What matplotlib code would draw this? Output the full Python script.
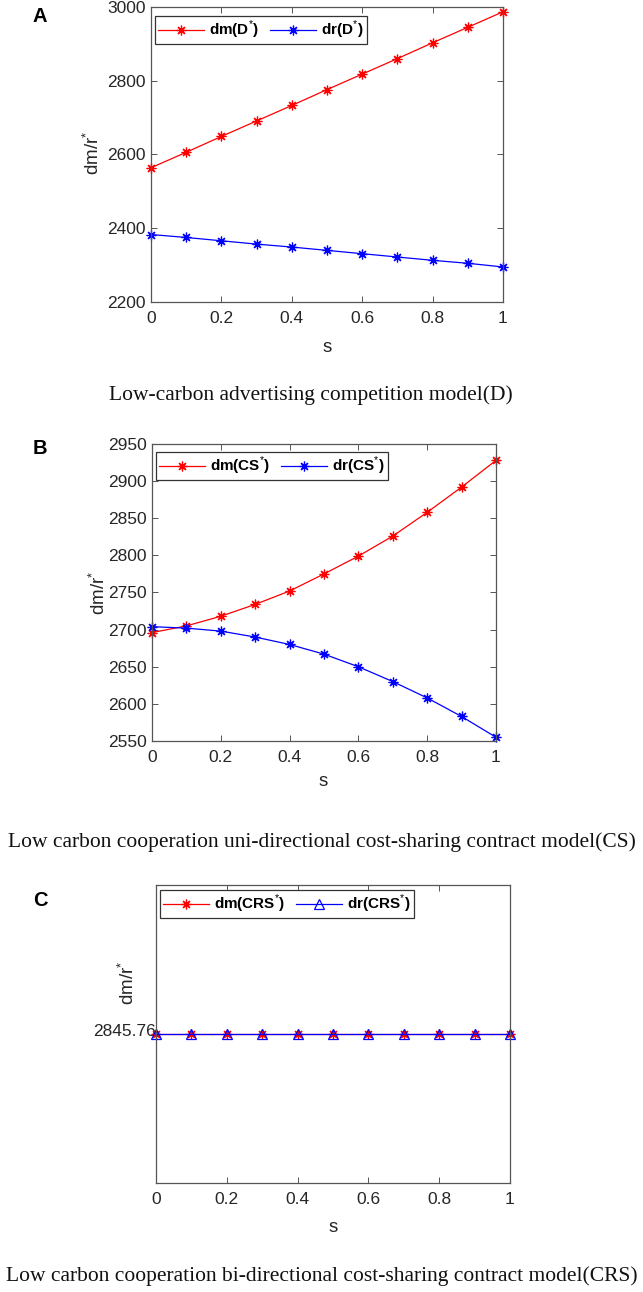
import matplotlib
matplotlib.use("Agg")
import matplotlib.pyplot as plt
import matplotlib.transforms as mtransforms
import numpy as np

# ---------------- data ----------------
s = [0.0, 0.1, 0.2, 0.3, 0.4, 0.5, 0.6, 0.7, 0.8, 0.9, 1.0]

dm_D = [2564, 2606, 2649, 2691, 2733, 2776, 2818, 2860, 2903, 2945, 2987]
dr_D = [2383, 2375, 2366, 2357, 2349, 2340, 2331, 2322, 2313, 2305, 2295]

dm_CS = [2696, 2705, 2718, 2734, 2752, 2775, 2799, 2826, 2858, 2892, 2928]
dr_CS = [2704, 2702, 2698, 2690, 2680, 2667, 2650, 2630, 2608, 2583, 2555]

crs_value = 2845.76
dm_CRS = [2845.76] * 11
dr_CRS = [2845.76] * 11

yticks_A = [2200, 2400, 2600, 2800, 3000]
yticks_B = [2550, 2600, 2650, 2700, 2750, 2800, 2850, 2900, 2950]
xticks = [0, 0.2, 0.4, 0.6, 0.8, 1]
xticklabels = ["0", "0.2", "0.4", "0.6", "0.8", "1"]

captions = [
    "Low-carbon advertising competition model(D)",
    "Low carbon cooperation uni-directional cost-sharing contract model(CS)",
    "Low carbon cooperation bi-directional cost-sharing contract model(CRS)",
]
legend_A = [r"dm(D$^{*}$)", r"dr(D$^{*}$)"]
legend_B = [r"dm(CS$^{*}$)", r"dr(CS$^{*}$)"]
legend_C = [r"dm(CRS$^{*}$)", r"dr(CRS$^{*}$)"]

# ---------------- styling ----------------
plt.rcParams["font.family"] = ["Liberation Sans", "DejaVu Sans"]
plt.rcParams["mathtext.fontset"] = "custom"
plt.rcParams["mathtext.rm"] = "Liberation Sans"
plt.rcParams["mathtext.bf"] = "Liberation Sans:bold"

W, H = 643, 1292
fig = plt.figure(figsize=(W / 100, H / 100), dpi=100)
fig.patch.set_facecolor("white")

AX_COL = "#555555"
TXT_COL = "#262626"
ASTER = (8, 2, 0)
TICK_FS = 12.5
LAB_FS = 13.5


def px_axes(l, r, t, b):
    return fig.add_axes([l / W, 1 - b / H, (r - l) / W, (b - t) / H])


def style(ax, ypad=4.0):
    for sp in ax.spines.values():
        sp.set_color(AX_COL)
        sp.set_linewidth(0.9)
    ax.tick_params(direction="in", top=True, right=True, length=4.5,
                   width=0.7, color=AX_COL, labelcolor=TXT_COL,
                   labelsize=TICK_FS)
    ax.tick_params(axis="x", pad=6.5)
    ax.tick_params(axis="y", pad=ypad)


def fig_text(x, y, txt, **kw):
    fig.text(x / W, 1 - y / H, txt, **kw)


def legend(ax, x, y, labels):
    leg = ax.legend(labels, loc="upper left",
                    bbox_to_anchor=(x / W, 1 - y / H),
                    bbox_transform=fig.transFigure, ncol=2,
                    frameon=True, fancybox=False, framealpha=1,
                    edgecolor="#333333", borderaxespad=0,
                    handlelength=3.0, handletextpad=0.35,
                    columnspacing=0.7, borderpad=0.2,
                    prop={"weight": "bold", "size": 11})
    leg.get_frame().set_linewidth(0.9)
    for t in leg.get_texts():
        t.set_color("black")
    return leg


def labels(ax, l, r, t, b, sx, sy, yx, yy):
    w, h = r - l, b - t
    ax.set_xlabel("s", fontsize=LAB_FS, color=TXT_COL)
    ax.xaxis.set_label_coords((sx - l) / w, (b - sy) / h)
    ax.xaxis.label.set_va("center")
    ax.set_ylabel(r"dm/r$^{*}$", fontsize=LAB_FS, color=TXT_COL)
    ax.yaxis.set_label_coords((yx - l) / w, (b - yy) / h)
    ax.yaxis.label.set_va("center")


# ---------------- panel A ----------------
axA = px_axes(151, 503, 7, 302)
axA.plot(s, dm_D, color="red", lw=0.9, marker=ASTER, ms=7, mew=0.9, clip_on=False)
axA.plot(s, dr_D, color="blue", lw=0.9, marker=ASTER, ms=7, mew=0.9, clip_on=False)
axA.set_xlim(0, 1)
axA.set_ylim(2200, 3000)
axA.set_yticks(yticks_A)
axA.set_xticks(xticks)
axA.set_xticklabels(xticklabels)
style(axA)
legend(axA, 155, 16, legend_A)
labels(axA, 151, 503, 7, 302, 327, 347, 93, 153)

# ---------------- panel B ----------------
axB = px_axes(152, 496, 444, 741)
axB.plot(s, dm_CS, color="red", lw=0.9, marker=ASTER, ms=7, mew=0.9, clip_on=False)
axB.plot(s, dr_CS, color="blue", lw=0.9, marker=ASTER, ms=7, mew=0.9, clip_on=False)
axB.set_xlim(0, 1)
axB.set_ylim(2550, 2950)
axB.set_yticks(yticks_B)
axB.set_xticks(xticks)
axB.set_xticklabels(xticklabels)
style(axB)
legend(axB, 156, 452, legend_B)
labels(axB, 152, 496, 444, 741, 323, 782, 99, 593)

# ---------------- panel C ----------------
axC = px_axes(156, 510, 885, 1183)
axC.plot(s, dm_CRS, color="red", lw=0.9, marker=ASTER, ms=7, mew=0.9, clip_on=False)
axC.plot(s, dr_CRS, color="blue", lw=0.9, marker="^", ms=7.5, mew=0.9,
         mfc="none", mec="blue", clip_on=False)
axC.set_xlim(0, 1)
axC.set_ylim(crs_value - 1, crs_value + 1)
axC.set_yticks([crs_value])
axC.set_yticklabels([f"{crs_value:.2f}"])
axC.set_xticks(xticks)
axC.set_xticklabels(xticklabels)
style(axC, ypad=0.0)
axC.tick_params(axis="y", length=0)
shift = mtransforms.ScaledTranslation(0, 4.5 / 100, fig.dpi_scale_trans)
for t in axC.get_yticklabels():
    t.set_transform(t.get_transform() + shift)
legend(axC, 160, 890, legend_C)
labels(axC, 156, 510, 885, 1183, 333, 1227, 128, 983)

# ---------------- panel letters ----------------
for lab, (x, y) in zip(["A", "B", "C"], [(40, 16), (40, 448), (40, 901)]):
    fig_text(x, y, lab, fontsize=14.5, fontweight="bold", ha="center",
             va="center", color="black")

# ---------------- captions ----------------
cap_pos = [(311, 395), (322, 842), (322, 1276)]
for txt, (x, y) in zip(captions, cap_pos):
    fig_text(x, y, txt, fontsize=15.5, family=["Liberation Serif", "DejaVu Serif"],
             ha="center", va="center", color="#111111")

fig.savefig("out.png", dpi=100, facecolor="white")
